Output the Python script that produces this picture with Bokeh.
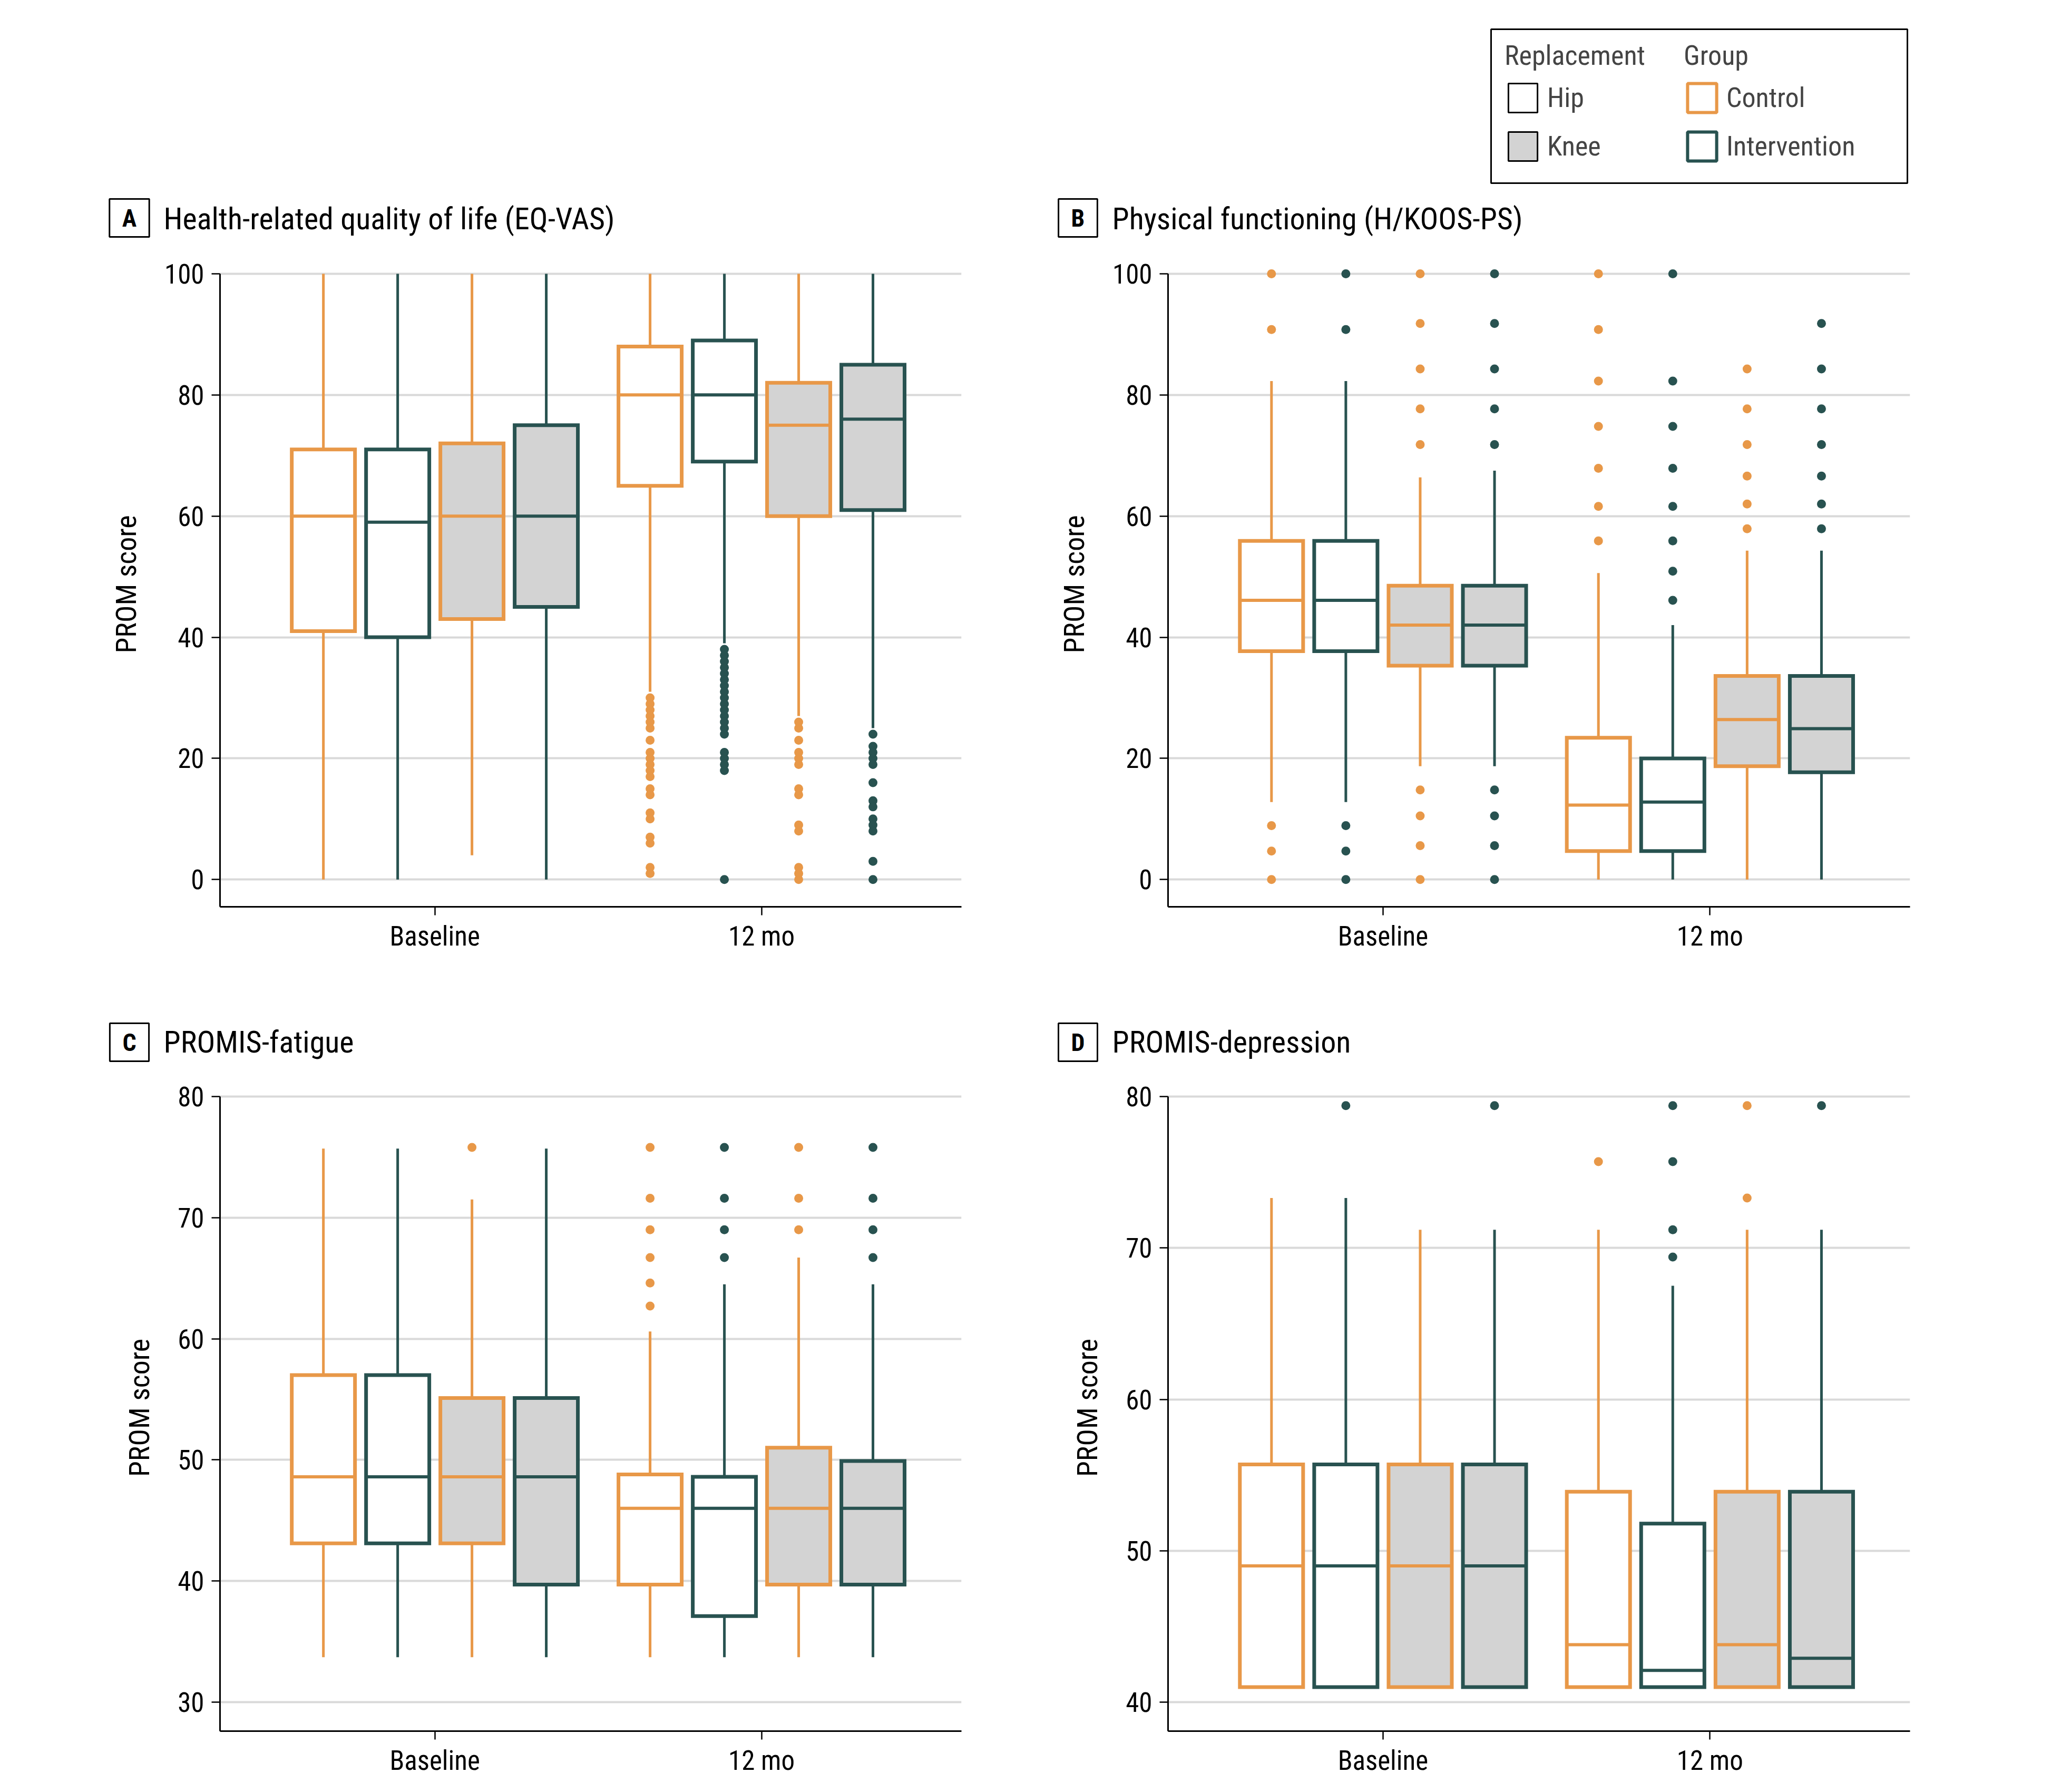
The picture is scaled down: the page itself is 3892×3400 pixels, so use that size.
import numpy as np
from bokeh.plotting import figure
from bokeh.layouts import column, row
from bokeh.models import (FixedTicker, Label, Legend, LegendItem, BoxAnnotation,
                          ColumnDataSource, Range1d)
from bokeh.embed import file_html
from bokeh.resources import INLINE

# ---------------- data ----------------
times = ["Baseline", "12 mo"]
replacements = ["Hip", "Knee"]
groups = ["Control", "Intervention"]
# box order within each time point: Hip-Control, Hip-Intervention, Knee-Control, Knee-Intervention

# A  Health-related quality of life (EQ-VAS)
A_lo = [0, 0, 4, 0, 31, 39, 27, 25]
A_q1 = [41, 40, 43, 45, 65, 69, 60, 61]
A_med = [60, 59, 60, 60, 80, 80, 75, 76]
A_q3 = [71, 71, 72, 75, 88, 89, 82, 85]
A_hi = [100, 100, 100, 100, 100, 100, 100, 100]
A_out = [
    [], [], [], [],
    [30, 29, 28, 27, 26, 25, 23, 21, 20, 19, 18, 17, 15, 14, 11, 10, 7, 6, 2, 1],
    [38, 37, 36, 35, 34, 33, 32, 31, 30, 29, 28, 27, 26, 25, 24, 21, 20, 19, 18, 0],
    [26, 25, 23, 21, 20, 19, 15, 14, 9, 8, 2, 1, 0],
    [24, 22, 21, 20, 19, 16, 13, 12, 10, 9, 8, 3, 0],
]

# B  Physical functioning (H/KOOS-PS)
B_lo = [12.8, 12.8, 18.7, 18.7, 0, 0, 0, 0]
B_q1 = [37.7, 37.7, 35.3, 35.3, 4.7, 4.7, 18.7, 17.7]
B_med = [46.1, 46.1, 42.0, 42.0, 12.3, 12.8, 26.4, 24.9]
B_q3 = [55.9, 55.9, 48.5, 48.5, 23.4, 20.0, 33.6, 33.6]
B_hi = [82.3, 82.3, 66.4, 67.5, 50.6, 42.0, 54.3, 54.3]
B_out = [
    [100, 90.8, 8.9, 4.7, 0],
    [100, 90.8, 8.9, 4.7, 0],
    [100, 91.8, 84.3, 77.7, 71.8, 14.8, 10.5, 5.6, 0],
    [100, 91.8, 84.3, 77.7, 71.8, 14.8, 10.5, 5.6, 0],
    [100, 90.8, 82.3, 74.8, 67.9, 61.6, 55.9],
    [100, 82.3, 74.8, 67.9, 61.6, 55.9, 50.9, 46.1],
    [84.3, 77.7, 71.8, 66.6, 62.0, 57.9],
    [91.8, 84.3, 77.7, 71.8, 66.6, 62.0, 57.9],
]

# C  PROMIS-fatigue
C_lo = [33.7, 33.7, 33.7, 33.7, 33.7, 33.7, 33.7, 33.7]
C_q1 = [43.1, 43.1, 43.1, 39.7, 39.7, 37.1, 39.7, 39.7]
C_med = [48.6, 48.6, 48.6, 48.6, 46.0, 46.0, 46.0, 46.0]
C_q3 = [57.0, 57.0, 55.1, 55.1, 48.8, 48.6, 51.0, 49.9]
C_hi = [75.7, 75.7, 71.5, 75.7, 60.6, 64.5, 66.7, 64.5]
C_out = [
    [], [], [75.8], [],
    [75.8, 71.6, 69.0, 66.7, 64.6, 62.7],
    [75.8, 71.6, 69.0, 66.7],
    [75.8, 71.6, 69.0],
    [75.8, 71.6, 69.0, 66.7],
]

# D  PROMIS-depression
D_lo = [41.0, 41.0, 41.0, 41.0, 41.0, 41.0, 41.0, 41.0]
D_q1 = [41.0, 41.0, 41.0, 41.0, 41.0, 41.0, 41.0, 41.0]
D_med = [49.0, 49.0, 49.0, 49.0, 43.8, 42.1, 43.8, 42.9]
D_q3 = [55.7, 55.7, 55.7, 55.7, 53.9, 51.8, 53.9, 53.9]
D_hi = [73.3, 73.3, 71.2, 71.2, 71.2, 67.5, 71.2, 71.2]
D_out = [
    [], [79.4], [], [79.4],
    [75.7],
    [79.4, 75.7, 71.2, 69.4],
    [79.4, 73.3],
    [79.4],
]

A_ticks = [0, 20, 40, 60, 80, 100]
B_ticks = [0, 20, 40, 60, 80, 100]
C_ticks = [30, 40, 50, 60, 70, 80]
D_ticks = [40, 50, 60, 70, 80]

# ---------------- style ----------------
FONT = "Roboto Condensed, Noto Sans Condensed, DejaVu Sans Condensed, Liberation Sans"
ORANGE = "#E89848"
TEAL = "#285250"
GREY = "#D3D3D3"
GRID = "#D9D9D9"
OFFSETS = [-0.3411, -0.1137, 0.1137, 0.3411]
BOX_W = 0.1935
XR = (0.3425, 2.612)
TICK_FS = "51px"
AXLAB_FS = "54px"
LEG_FS = "52px"
TITLE_FS = "58px"
PAGE_W = 3884


def blank_fig(height):
    f = figure(width=PAGE_W, height=height, x_range=Range1d(0, PAGE_W),
               y_range=Range1d(0, height), output_backend="svg",
               toolbar_location=None, min_border=0, min_border_left=0,
               min_border_right=0, min_border_top=0, min_border_bottom=0)
    f.axis.visible = False
    f.grid.grid_line_color = None
    f.outline_line_color = None
    return f


def add_title(f, letter, title, bx, by, tx, ty):
    f.add_layout(Label(x=bx, y=by, text=letter,
                       text_font=FONT, text_font_size="46px", text_font_style="bold",
                       text_align="center", text_baseline="middle", text_color="black",
                       border_line_color="black", border_line_width=3,
                       background_fill_color="white",
                       padding=dict(left=24, right=24, top=9, bottom=9)))
    f.add_layout(Label(x=tx, y=ty, text=title,
                       text_font=FONT, text_font_size=TITLE_FS,
                       text_align="left", text_baseline="middle", text_color="black"))


def make_panel(lo, q1, med, q3, hi, out, yticks, yr, width, height,
               mbl, mbr, mbt, mbb):
    p = figure(width=width, height=height, x_range=Range1d(*XR), y_range=Range1d(*yr),
               output_backend="svg", toolbar_location=None,
               min_border_left=mbl, min_border_right=mbr,
               min_border_top=mbt, min_border_bottom=mbb)
    p.outline_line_color = None

    xs, cols, fills = [], [], []
    for ti in range(len(times)):
        for k in range(4):
            xs.append(ti + 1 + OFFSETS[k])
            cols.append(ORANGE if k % 2 == 0 else TEAL)
            fills.append("white" if k < 2 else GREY)
    xs = np.array(xs)
    src = ColumnDataSource(dict(x=xs, x0=xs - BOX_W / 2, x1=xs + BOX_W / 2,
                                lo=lo, q1=q1, med=med, q3=q3, hi=hi,
                                col=cols, fill=fills))
    p.segment(x0="x", x1="x", y0="lo", y1="q1", line_color="col", line_width=5,
              source=src)
    p.segment(x0="x", x1="x", y0="q3", y1="hi", line_color="col", line_width=5,
              source=src)
    p.vbar(x="x", width=BOX_W, bottom="q1", top="q3", fill_color="fill",
           line_color="col", line_width=7, line_join="miter", source=src)
    p.segment(x0="x0", x1="x1", y0="med", y1="med", line_color="col", line_width=6,
              source=src)

    ox, oy, oc = [], [], []
    for i, vals in enumerate(out):
        for v in vals:
            ox.append(xs[i])
            oy.append(v)
            oc.append(cols[i])
    p.scatter(x=ox, y=oy, size=17, fill_color=oc, line_color=None)

    p.xgrid.grid_line_color = None
    p.ygrid.grid_line_color = GRID
    p.ygrid.grid_line_width = 4
    p.yaxis.ticker = FixedTicker(ticks=yticks)
    p.yaxis.bounds = (yr[0], yticks[-1])
    p.xaxis.ticker = FixedTicker(ticks=[1, 2])
    p.xaxis.major_label_overrides = {1: times[0], 2: times[1]}
    p.yaxis.axis_label = "PROM score"
    for ax in (p.xaxis, p.yaxis):
        ax.axis_line_color = "black"
        ax.axis_line_width = 3
        ax.major_tick_line_color = "black"
        ax.major_tick_line_width = 2.5
        ax.major_tick_out = 16
        ax.major_tick_in = 0
        ax.minor_tick_line_color = None
        ax.major_label_text_font = FONT
        ax.major_label_text_font_size = TICK_FS
        ax.major_label_text_color = "black"
        ax.axis_label_text_font = FONT
        ax.axis_label_text_font_size = AXLAB_FS
        ax.axis_label_text_font_style = "normal"
        ax.axis_label_text_color = "black"
    p.xaxis.major_label_standoff = 10
    p.yaxis.major_label_standoff = 14
    p.yaxis.axis_label_standoff = 38
    return p


# ---------------- top strip: legend + titles A/B ----------------
TOP_H = 478
pTop = blank_fig(TOP_H)
pTop.add_layout(BoxAnnotation(left=2829, right=3619, top=TOP_H - 55, bottom=TOP_H - 347,
                              fill_alpha=0, line_color="black", line_width=3,
                              line_alpha=1))

nan = float("nan")
r_hip = pTop.rect(x=[nan], y=[nan], width=1, height=1, fill_color="white",
                  line_color="black", line_width=3)
r_knee = pTop.rect(x=[nan], y=[nan], width=1, height=1, fill_color=GREY,
                   line_color="black", line_width=3)
r_ctrl = pTop.rect(x=[nan], y=[nan], width=1, height=1, fill_color="white",
                   line_color=ORANGE, line_width=6)
r_int = pTop.rect(x=[nan], y=[nan], width=1, height=1, fill_color="white",
                  line_color=TEAL, line_width=6)


def style_legend(lg):
    lg.glyph_width = 69
    lg.glyph_height = 69
    lg.label_height = 69
    lg.spacing = 23
    lg.label_standoff = 12
    lg.padding = 0
    lg.margin = 0
    lg.border_line_color = None
    lg.background_fill_alpha = 0
    lg.label_text_font = FONT
    lg.label_text_font_size = LEG_FS
    lg.title_text_font = FONT
    lg.title_text_font_size = LEG_FS
    lg.title_text_font_style = "normal"
    lg.title_standoff = 15


leg1 = Legend(items=[LegendItem(label=replacements[0], renderers=[r_hip]),
                     LegendItem(label=replacements[1], renderers=[r_knee])],
              title="Replacement", location=(2855, TOP_H - 312))
leg2 = Legend(items=[LegendItem(label=groups[0], renderers=[r_ctrl]),
                     LegendItem(label=groups[1], renderers=[r_int])],
              title="Group", location=(3195, TOP_H - 312))
style_legend(leg1)
style_legend(leg2)
pTop.add_layout(leg1)
pTop.add_layout(leg2)

add_title(pTop, "A", "Health-related quality of life (EQ-VAS)", 245, TOP_H - 413, 310, TOP_H - 414)
add_title(pTop, "B", "Physical functioning  (H/KOOS-PS)", 2045, TOP_H - 413, 2110, TOP_H - 414)

# ---------------- middle strip: titles C/D ----------------
MID_H = 140
pMid = blank_fig(MID_H)
add_title(pMid, "C", "PROMIS-fatigue", 245, 63, 310, 64)
add_title(pMid, "D", "PROMIS-depression", 2045, 63, 2110, 64)

# ---------------- panels ----------------
pA = make_panel(A_lo, A_q1, A_med, A_q3, A_hi, A_out, A_ticks, (-4.5, 102),
                1908, 1422, 417, 84, 18, 180)
pB = make_panel(B_lo, B_q1, B_med, B_q3, B_hi, B_out, B_ticks, (-4.5, 102),
                1976, 1422, 308, 260, 18, 180)
pC = make_panel(C_lo, C_q1, C_med, C_q3, C_hi, C_out, C_ticks, (27.6, 81),
                1908, 1352, 417, 84, 17, 108)
pD = make_panel(D_lo, D_q1, D_med, D_q3, D_hi, D_out, D_ticks, (38.09, 80.8),
                1976, 1352, 308, 260, 17, 108)

layout = column(pTop, row(pA, pB), pMid, row(pC, pD))

open("out.html", "w").write(file_html(layout, INLINE))
